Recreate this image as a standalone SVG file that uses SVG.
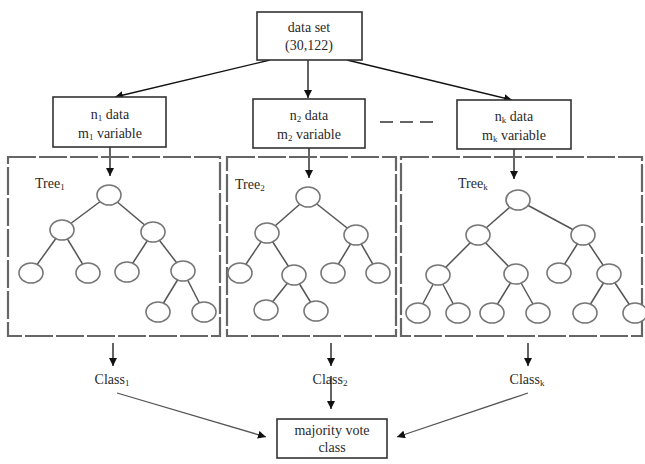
<svg xmlns="http://www.w3.org/2000/svg" width="645" height="464" viewBox="0 0 645 464">
<style>
text{font-family:"Liberation Serif","Times New Roman",serif;font-size:14px;fill:#2a2a2a;text-anchor:middle}
.l{text-anchor:start}
.box{fill:#fff;stroke:#333;stroke-width:1.6}
.frame{fill:none;stroke:#666;stroke-width:2.2;stroke-dasharray:28 3}
.n{fill:#fff;stroke:#777;stroke-width:1.6}
.e{stroke:#555;stroke-width:1.5}
.a{stroke:#111;stroke-width:1.3;fill:none;marker-end:url(#ah)}
.g{stroke:#555;stroke-width:1.3;fill:none;marker-end:url(#ah)}
.sub{font-size:9px}
</style>
<defs>
<marker id="ah" viewBox="0 0 10 10" refX="10" refY="5" markerWidth="8" markerHeight="8" markerUnits="userSpaceOnUse" orient="auto">
<path d="M0,0 L10,5 L0,10 Z" fill="#111"/>
</marker>
</defs>
<rect width="645" height="464" fill="#fff"/>
<g id="connectors">
<line class="a" x1="270" y1="60" x2="115" y2="97"/>
<line class="a" x1="308" y1="60" x2="308" y2="98"/>
<line class="a" x1="347" y1="60" x2="512" y2="100"/>
<line x1="380" y1="122" x2="437" y2="122" stroke="#333" stroke-width="1.6" stroke-dasharray="13 7"/>
<line class="a" x1="110" y1="147" x2="110" y2="176"/>
<line class="a" x1="309" y1="148" x2="309" y2="178"/>
<line class="a" x1="514" y1="149" x2="514" y2="179"/>
<line class="a" x1="113" y1="343" x2="113" y2="366"/>
<line class="a" x1="331" y1="343" x2="331" y2="366"/>
<line class="a" x1="528" y1="343" x2="528" y2="366"/>
<line class="a" x1="331" y1="376" x2="331" y2="409"/>
<line class="g" x1="117" y1="393" x2="266" y2="437"/>
<line class="g" x1="528" y1="393" x2="397" y2="437"/>
</g>
<g id="dataset">
<rect class="box" x="257" y="12" width="105" height="48"/>
<text x="309" y="32">data set</text>
<text x="309" y="50">(30,122)</text>
</g>
<g id="subset1">
<rect class="box" x="53" y="97" width="113" height="50"/>
<text x="110" y="119">n<tspan class="sub" dy="2">1</tspan><tspan dy="-2"> data</tspan></text>
<text x="110" y="138">m<tspan class="sub" dy="2">1</tspan><tspan dy="-2"> variable</tspan></text>
</g>
<g id="subset2">
<rect class="box" x="253" y="99" width="112" height="49"/>
<text x="309" y="120">n<tspan class="sub" dy="2">2</tspan><tspan dy="-2"> data</tspan></text>
<text x="309" y="139">m<tspan class="sub" dy="2">2</tspan><tspan dy="-2"> variable</tspan></text>
</g>
<g id="subsetk">
<rect class="box" x="457" y="100" width="114" height="49"/>
<text x="514" y="121">n<tspan class="sub" dy="2">k</tspan><tspan dy="-2"> data</tspan></text>
<text x="514" y="140">m<tspan class="sub" dy="2">k</tspan><tspan dy="-2"> variable</tspan></text>
</g>
<g id="tree1">
<rect class="frame" x="8" y="157" width="212" height="179"/>
<text class="l" x="35" y="188">Tree<tspan class="sub" dy="2">1</tspan></text>
<g>
<line class="e" x1="109" y1="195" x2="62" y2="230"/>
<line class="e" x1="109" y1="195" x2="153" y2="232"/>
<line class="e" x1="62" y1="230" x2="31" y2="273"/>
<line class="e" x1="62" y1="230" x2="88" y2="273"/>
<line class="e" x1="153" y1="232" x2="127" y2="272"/>
<line class="e" x1="153" y1="232" x2="183" y2="271"/>
<line class="e" x1="183" y1="271" x2="158" y2="312"/>
<line class="e" x1="183" y1="271" x2="204" y2="312"/>
</g>
<ellipse class="n" cx="109" cy="195" rx="12" ry="10"/>
<ellipse class="n" cx="62" cy="230" rx="12" ry="10"/>
<ellipse class="n" cx="153" cy="232" rx="12" ry="10"/>
<ellipse class="n" cx="31" cy="273" rx="12" ry="10"/>
<ellipse class="n" cx="88" cy="273" rx="12" ry="10"/>
<ellipse class="n" cx="127" cy="272" rx="12" ry="10"/>
<ellipse class="n" cx="183" cy="271" rx="12" ry="10"/>
<ellipse class="n" cx="158" cy="312" rx="12" ry="10"/>
<ellipse class="n" cx="204" cy="312" rx="12" ry="10"/>
</g>
<g id="tree2">
<rect class="frame" x="227" y="157" width="169" height="179"/>
<text class="l" x="235" y="189">Tree<tspan class="sub" dy="2">2</tspan></text>
<g>
<line class="e" x1="308" y1="197" x2="267" y2="233"/>
<line class="e" x1="308" y1="197" x2="356" y2="235"/>
<line class="e" x1="267" y1="233" x2="240" y2="273"/>
<line class="e" x1="267" y1="233" x2="294" y2="275"/>
<line class="e" x1="356" y1="235" x2="333" y2="273"/>
<line class="e" x1="356" y1="235" x2="378" y2="273"/>
<line class="e" x1="294" y1="275" x2="266" y2="310"/>
<line class="e" x1="294" y1="275" x2="316" y2="311"/>
</g>
<ellipse class="n" cx="308" cy="197" rx="12" ry="10"/>
<ellipse class="n" cx="267" cy="233" rx="12" ry="10"/>
<ellipse class="n" cx="356" cy="235" rx="12" ry="10"/>
<ellipse class="n" cx="240" cy="273" rx="12" ry="10"/>
<ellipse class="n" cx="294" cy="275" rx="12" ry="10"/>
<ellipse class="n" cx="333" cy="273" rx="12" ry="10"/>
<ellipse class="n" cx="378" cy="273" rx="12" ry="10"/>
<ellipse class="n" cx="266" cy="310" rx="12" ry="10"/>
<ellipse class="n" cx="316" cy="311" rx="12" ry="10"/>
</g>
<g id="treek">
<rect class="frame" x="401" y="157" width="241" height="179"/>
<text class="l" x="458" y="188">Tree<tspan class="sub" dy="2">k</tspan></text>
<g>
<line class="e" x1="518" y1="200" x2="478" y2="235"/>
<line class="e" x1="518" y1="200" x2="583" y2="235"/>
<line class="e" x1="478" y1="235" x2="438" y2="275"/>
<line class="e" x1="478" y1="235" x2="516" y2="274"/>
<line class="e" x1="583" y1="235" x2="559" y2="273"/>
<line class="e" x1="583" y1="235" x2="609" y2="274"/>
<line class="e" x1="438" y1="275" x2="418" y2="313"/>
<line class="e" x1="438" y1="275" x2="458" y2="313"/>
<line class="e" x1="516" y1="274" x2="492" y2="313"/>
<line class="e" x1="516" y1="274" x2="538" y2="313"/>
<line class="e" x1="609" y1="274" x2="585" y2="313"/>
<line class="e" x1="609" y1="274" x2="635" y2="313"/>
</g>
<ellipse class="n" cx="518" cy="200" rx="12" ry="10"/>
<ellipse class="n" cx="478" cy="235" rx="12" ry="10"/>
<ellipse class="n" cx="583" cy="235" rx="12" ry="10"/>
<ellipse class="n" cx="438" cy="275" rx="12" ry="10"/>
<ellipse class="n" cx="516" cy="274" rx="12" ry="10"/>
<ellipse class="n" cx="559" cy="273" rx="12" ry="10"/>
<ellipse class="n" cx="609" cy="274" rx="12" ry="10"/>
<ellipse class="n" cx="418" cy="313" rx="12" ry="10"/>
<ellipse class="n" cx="458" cy="313" rx="12" ry="10"/>
<ellipse class="n" cx="492" cy="313" rx="12" ry="10"/>
<ellipse class="n" cx="538" cy="313" rx="12" ry="10"/>
<ellipse class="n" cx="585" cy="313" rx="12" ry="10"/>
<ellipse class="n" cx="635" cy="313" rx="12" ry="10"/>
</g>
<g id="class1">
<text x="112" y="384">Class<tspan class="sub" dy="2">1</tspan></text>
</g>
<g id="class2">
<text x="330" y="384">Class<tspan class="sub" dy="2">2</tspan></text>
</g>
<g id="classk">
<text x="527" y="384">Class<tspan class="sub" dy="2">k</tspan></text>
</g>
<g id="majority">
<rect class="box" x="277" y="419" width="110" height="39"/>
<text x="332" y="435">majority vote</text>
<text x="332" y="452">class</text>
</g>
</svg>
